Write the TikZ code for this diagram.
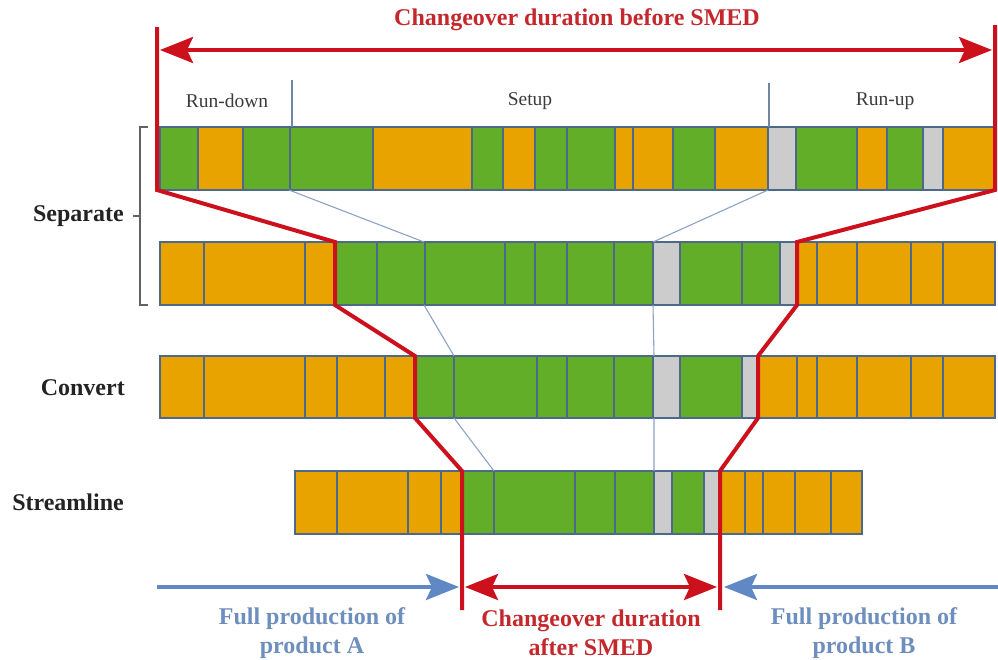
\documentclass[tikz,border=0pt]{standalone}
\usepackage{fontspec}
\setmainfont{Liberation Serif}
\usetikzlibrary{arrows.meta}
\definecolor{cG}{RGB}{98,174,40}
\definecolor{cO}{RGB}{233,163,0}
\definecolor{cY}{RGB}{204,204,204}
\definecolor{bord}{RGB}{76,104,138}
\definecolor{thinb}{RGB}{140,162,196}
\definecolor{redl}{RGB}{204,16,28}
\definecolor{redt}{RGB}{196,40,44}
\definecolor{bluet}{RGB}{110,142,190}
\definecolor{bluea}{RGB}{96,136,196}
\definecolor{darkt}{RGB}{60,60,60}
\definecolor{blackt}{RGB}{35,35,35}
\newcommand{\drawsegs}[3]{\foreach \a/\b/\c in {#3} {\filldraw[fill=\c, draw=bord, line width=1.3pt] (\a,#1) rectangle (\b,#2);}}
\tikzset{
  boldlab/.style={font=\fontsize{24}{29}\selectfont\bfseries, align=center, inner sep=0pt},
  smalllab/.style={font=\fontsize{19.5}{22}\selectfont, text=darkt, inner sep=0pt},
  redline/.style={draw=redl, line width=4pt, line join=miter},
  thinline/.style={draw=thinb, line width=1.1pt},
  divline/.style={draw=bord!80, line width=1.3pt},
  bigtip/.style={-{Stealth[length=33pt,width=26pt,inset=6pt]}},
  bigtips/.style={{Stealth[length=33pt,width=26pt,inset=6pt]}-{Stealth[length=33pt,width=26pt,inset=6pt]}}
}
\begin{document}
\begin{tikzpicture}[x=1pt,y=-1pt]
\useasboundingbox (0,0) rectangle (998,659);
% rows
\drawsegs{127}{190}{160/198/cG,198/243/cO,243/290/cG,290/373/cG,373/472/cO,472/503/cG,503/535/cO,535/567/cG,567/615/cG,615/633/cO,633/673/cO,673/715/cG,715/768/cO,768/796/cY,796/857/cG,857/887/cO,887/923/cG,923/943/cY,943/995/cO}
\drawsegs{242}{305}{160/204/cO,204/305/cO,305/335/cO,335/377/cG,377/425/cG,425/505/cG,505/535/cG,535/567/cG,567/614/cG,614/653/cG,653/680/cY,680/742/cG,742/780/cG,780/797/cY,797/817/cO,817/857/cO,857/911/cO,911/943/cO,943/995/cO}
\drawsegs{356}{418}{160/204/cO,204/305/cO,305/337/cO,337/385/cO,385/415/cO,415/454/cG,454/537/cG,537/567/cG,567/614/cG,614/653/cG,653/680/cY,680/742/cG,742/758/cY,758/797/cO,797/817/cO,817/857/cO,857/911/cO,911/943/cO,943/995/cO}
\drawsegs{471}{534}{295/337/cO,337/408/cO,408/441/cO,441/462/cO,462/494/cG,494/575/cG,575/615/cG,615/654/cG,654/672/cY,672/704/cG,704/720/cY,720/745/cO,745/763/cO,763/795/cO,795/831/cO,831/862/cO}
% phase dividers
\coordinate (d1t) at (292,80);  \coordinate (d1b) at (292,127);
\coordinate (d2t) at (769,83);  \coordinate (d2b) at (769,127);
\draw[divline] (d1t) -- (d1b);
\draw[divline] (d2t) -- (d2b);
% thin mapping lines
\coordinate (l1) at (289,190); \coordinate (l2) at (424,242); \coordinate (l3) at (424,305);
\coordinate (l4) at (454,356); \coordinate (l5) at (454,418); \coordinate (l6) at (494,471);
\draw[thinline] (l1) -- (l2) (l3) -- (l4) (l5) -- (l6);
\coordinate (r1) at (768,190); \coordinate (r2) at (653,242); \coordinate (r3) at (653,305);
\coordinate (r4) at (654,356); \coordinate (r5) at (654,418); \coordinate (r6) at (654,471);
\draw[thinline] (r1) -- (r2) (r3) -- (r4) (r5) -- (r6);
% labels
\node[smalllab] (rd) at (227,101) {Run-down};
\node[smalllab] (su) at (530,101) {Setup};
\node[smalllab] (ru) at (885,101) {Run-up};
\node[boldlab, text=redt] (t1) at (577,20) {Changeover duration before SMED};
\node[boldlab, text=blackt, anchor=east] (sep) at (124,216) {Separate};
\node[boldlab, text=blackt, anchor=east] (con) at (125,388) {Convert};
\node[boldlab, text=blackt, anchor=east] (str) at (124,502) {Streamline};
\node[boldlab, text=bluet] (fa) at (312,633) {Full production of\\product A};
\node[boldlab, text=redt] (ca) at (591,633) {Changeover duration\\after SMED};
\node[boldlab, text=bluet] (fb) at (864,633) {Full production of\\product B};
% bracket
\coordinate (b1) at (148,127); \coordinate (b2) at (140,127); \coordinate (b3) at (140,305); \coordinate (b4) at (148,305);
\coordinate (bm) at (140,216); \coordinate (bt) at (133,216);
\draw[darkt!80, line width=1.2pt] (b1) -- (b2) -- (b3) -- (b4) (bm) -- (bt);
% red boundary lines
\coordinate (a0) at (157,27); \coordinate (a1) at (157,190); \coordinate (a2) at (335,242); \coordinate (a3) at (335,305);
\coordinate (a4) at (415,356); \coordinate (a5) at (415,418); \coordinate (a6) at (462,471); \coordinate (a7) at (462,610);
\draw[redline] (a0) -- (a1) -- (a2) -- (a3) -- (a4) -- (a5) -- (a6) -- (a7);
\coordinate (c0) at (995,25); \coordinate (c1) at (995,190); \coordinate (c2) at (797,242); \coordinate (c3) at (797,305);
\coordinate (c4) at (758,356); \coordinate (c5) at (758,418); \coordinate (c6) at (720,471); \coordinate (c7) at (720,610);
\draw[redline] (c0) -- (c1) -- (c2) -- (c3) -- (c4) -- (c5) -- (c6) -- (c7);
% top arrow
\coordinate (ta) at (160,50); \coordinate (tb) at (992,50);
\draw[redl, line width=4pt, bigtips] (ta) -- (tb);
% bottom arrows
\coordinate (ba1) at (157,587); \coordinate (ba2) at (459,587);
\draw[bluea, line width=4pt, bigtip] (ba1) -- (ba2);
\coordinate (bc1) at (465,587); \coordinate (bc2) at (717,587);
\draw[redl, line width=4pt, bigtips] (bc1) -- (bc2);
\coordinate (bb1) at (998,587); \coordinate (bb2) at (724,587);
\draw[bluea, line width=4pt, bigtip] (bb1) -- (bb2);
\end{tikzpicture}
\end{document}
